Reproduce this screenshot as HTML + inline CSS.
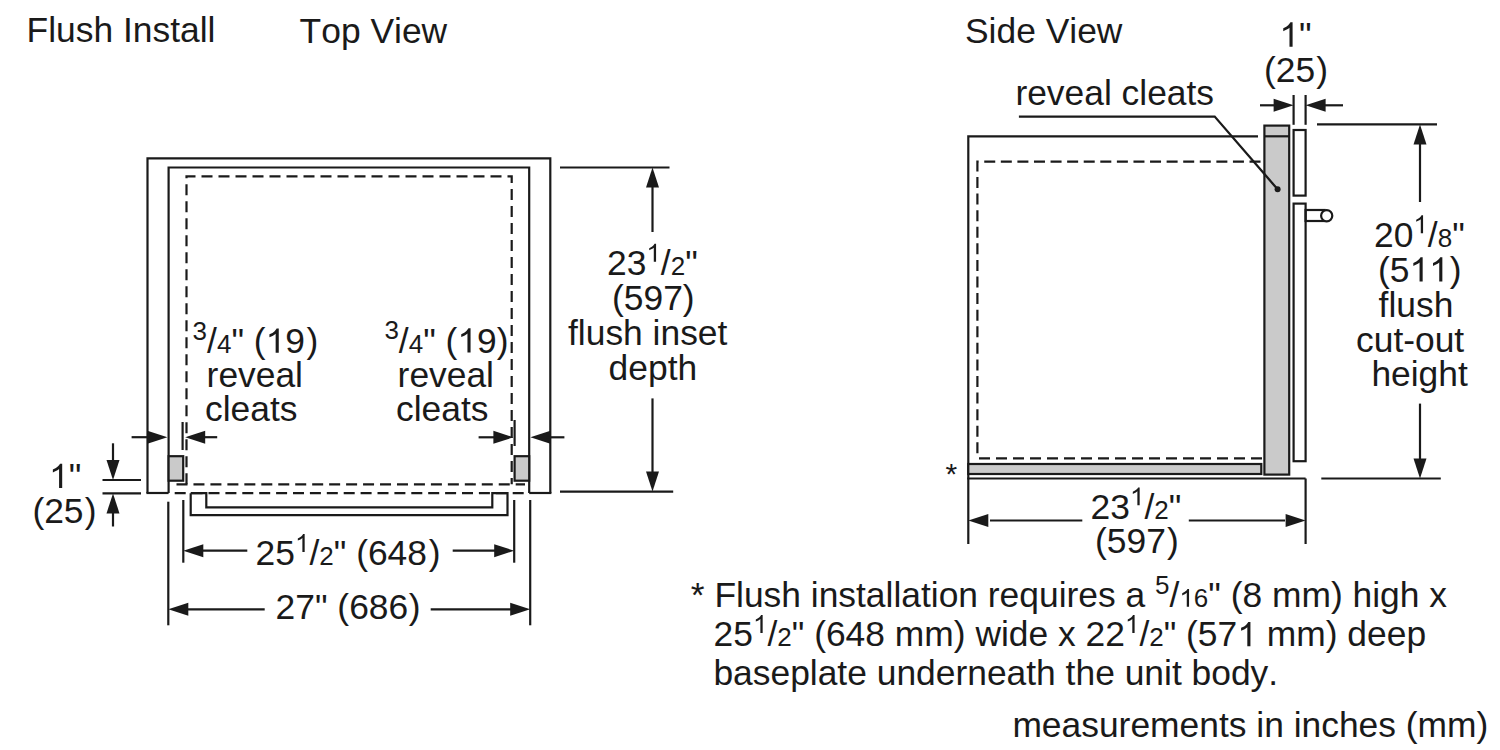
<!DOCTYPE html>
<html><head><meta charset="utf-8"><style>
html,body{margin:0;padding:0;background:#fff;width:1500px;height:750px;overflow:hidden}
svg{display:block}
text{font-family:"Liberation Sans",sans-serif;fill:#1a1a1a;font-kerning:none;font-feature-settings:"kern" 0}
.o{fill:transparent}
</style></head><body>
<svg width="1500" height="750" viewBox="0 0 1500 750">
<rect width="1500" height="750" fill="#fff"/>
<g stroke="#1a1a1a" fill="none" stroke-linecap="butt">
<polyline points="147.5,493 147.5,158.3 550.3,158.3 550.3,493" fill="none" stroke-width="2.2" />
<line x1="146.4" y1="493" x2="168.6" y2="493" stroke-width="2.2" />
<line x1="529.2" y1="493" x2="551.4" y2="493" stroke-width="2.2" />
<polyline points="168.6,493 168.6,167.5 529.2,167.5 529.2,493" fill="none" stroke-width="2.2" />
<path d="M186.5,484.3 V176.3 H511.7 V484.3" fill="none" stroke-width="2.2" stroke-dasharray="11 6.000" stroke-dashoffset="0"/>
<path d="M175,484.3 H525" fill="none" stroke-width="2.2" stroke-dasharray="11 5.960" stroke-dashoffset="-1.5"/>
<path d="M174.7,493.2 H525" fill="none" stroke-width="2.2" stroke-dasharray="11 5.900" stroke-dashoffset="0"/>
<rect x="168.6" y="456.2" width="14.6" height="24.5" fill="#cacaca" stroke-width="2.2"/>
<rect x="514.6" y="456.2" width="14.6" height="24.5" fill="#cacaca" stroke-width="2.2"/>
<polyline points="190.7,493.2 190.7,515.2 507.5,515.2 507.5,493.2 492.3,493.2 492.3,507.3 206.3,507.3 206.3,493.2 190.7,493.2" fill="none" stroke-width="2.2" />
<line x1="182.6" y1="422" x2="182.6" y2="450" stroke-width="2.2" />
<line x1="131.6" y1="437.2" x2="150" y2="437.2" stroke-width="2.2" />
<polygon points="167.4,437.2 147.4,430.7 147.4,443.7" fill="#1a1a1a" stroke="none"/>
<polygon points="185.2,437.2 205.2,430.7 205.2,443.7" fill="#1a1a1a" stroke="none"/>
<line x1="200" y1="437.2" x2="217.2" y2="437.2" stroke-width="2.2" />
<line x1="514.6" y1="420" x2="514.6" y2="446" stroke-width="2.2" />
<line x1="478.6" y1="437.3" x2="498" y2="437.3" stroke-width="2.2" />
<polygon points="513.4,437.3 493.4,430.8 493.4,443.8" fill="#1a1a1a" stroke="none"/>
<polygon points="530.4,437.3 550.4,430.8 550.4,443.8" fill="#1a1a1a" stroke="none"/>
<line x1="546" y1="437.3" x2="564.4" y2="437.3" stroke-width="2.2" />
<line x1="102.5" y1="480" x2="141" y2="480" stroke-width="2.2" />
<line x1="102.5" y1="493.4" x2="141" y2="493.4" stroke-width="2.2" />
<line x1="113" y1="443.3" x2="113" y2="463" stroke-width="2.2" />
<polygon points="113,480 106.5,460 119.5,460" fill="#1a1a1a" stroke="none"/>
<polygon points="113,493.4 106.5,513.4 119.5,513.4" fill="#1a1a1a" stroke="none"/>
<line x1="113" y1="510" x2="113" y2="526.5" stroke-width="2.2" />
<line x1="168.3" y1="501.7" x2="168.3" y2="625.3" stroke-width="2.2" />
<line x1="183.3" y1="500" x2="183.3" y2="562.7" stroke-width="2.2" />
<line x1="514.2" y1="500" x2="514.2" y2="562.7" stroke-width="2.2" />
<line x1="530.2" y1="500" x2="530.2" y2="625.3" stroke-width="2.2" />
<line x1="200" y1="550.7" x2="247.3" y2="550.7" stroke-width="2.2" />
<polygon points="183.3,550.7 203.3,544.2 203.3,557.2" fill="#1a1a1a" stroke="none"/>
<line x1="452.7" y1="550.7" x2="497" y2="550.7" stroke-width="2.2" />
<polygon points="514.2,550.7 494.20000000000005,544.2 494.20000000000005,557.2" fill="#1a1a1a" stroke="none"/>
<line x1="185" y1="609.3" x2="264.7" y2="609.3" stroke-width="2.2" />
<polygon points="168.3,609.3 188.3,602.8 188.3,615.8" fill="#1a1a1a" stroke="none"/>
<line x1="430.7" y1="609.3" x2="513" y2="609.3" stroke-width="2.2" />
<polygon points="530.2,609.3 510.20000000000005,602.8 510.20000000000005,615.8" fill="#1a1a1a" stroke="none"/>
<line x1="560" y1="167.5" x2="669.5" y2="167.5" stroke-width="2.2" />
<line x1="560" y1="491.6" x2="673.2" y2="491.6" stroke-width="2.2" />
<line x1="652.5" y1="184" x2="652.5" y2="232" stroke-width="2.2" />
<polygon points="652.5,167.5 646.0,187.5 659.0,187.5" fill="#1a1a1a" stroke="none"/>
<line x1="652.5" y1="398.4" x2="652.5" y2="475" stroke-width="2.2" />
<polygon points="652.5,491.6 646.0,471.6 659.0,471.6" fill="#1a1a1a" stroke="none"/>
<line x1="1293.6" y1="95" x2="1293.6" y2="124.8" stroke-width="2.2" />
<line x1="1305.6" y1="95" x2="1305.6" y2="124.8" stroke-width="2.2" />
<line x1="1260" y1="105.3" x2="1277" y2="105.3" stroke-width="2.2" />
<polygon points="1293.6,105.3 1273.6,98.8 1273.6,111.8" fill="#1a1a1a" stroke="none"/>
<polygon points="1305.6,105.3 1325.6,98.8 1325.6,111.8" fill="#1a1a1a" stroke="none"/>
<line x1="1322" y1="105.3" x2="1343" y2="105.3" stroke-width="2.2" />
<polyline points="968.3,544 968.3,136.3 1258,136.3" fill="none" stroke-width="2.2" />
<line x1="967.2" y1="478.5" x2="1305.6" y2="478.5" stroke-width="2.2" />
<polyline points="1305.6,478.5 1305.6,544" fill="none" stroke-width="2.2" />
<path d="M977.4,458.3 V161.7 H1261" fill="none" stroke-width="2.2" stroke-dasharray="11 5.580" stroke-dashoffset="-5"/>
<path d="M979,458.3 H1262" fill="none" stroke-width="2.2" stroke-dasharray="11 6.000" stroke-dashoffset="0"/>
<rect x="968.3" y="464" width="293" height="10" fill="#cacaca" stroke-width="2.2"/>
<rect x="1264.4" y="125.6" width="24.8" height="349" fill="#cacaca" stroke-width="2.2"/>
<line x1="1264.4" y1="136.3" x2="1289.2" y2="136.3" stroke-width="2.2" />
<rect x="1293.6" y="130" width="12" height="65.6" fill="none" stroke-width="2.2"/>
<rect x="1293.6" y="203.6" width="12" height="257.6" fill="none" stroke-width="2.2"/>
<rect x="1305.6" y="210" width="19" height="11" fill="none" stroke-width="2.2"/>
<circle cx="1326.7" cy="215.7" r="5.6" fill="#fff" stroke-width="2.2"/>
<polyline points="1018.9,116.6 1214.7,116.6 1277.4,189" fill="none" stroke-width="2.2" />
<circle cx="1277.6" cy="189.2" r="3" fill="#1a1a1a" stroke="none"/>
<line x1="1317" y1="124.4" x2="1437" y2="124.4" stroke-width="2.2" />
<line x1="1321.3" y1="478.5" x2="1440.8" y2="478.5" stroke-width="2.2" />
<line x1="1420" y1="142" x2="1420" y2="202" stroke-width="2.2" />
<polygon points="1420,124.4 1413.5,144.4 1426.5,144.4" fill="#1a1a1a" stroke="none"/>
<line x1="1420" y1="403.6" x2="1420" y2="462" stroke-width="2.2" />
<polygon points="1420,478.5 1413.5,458.5 1426.5,458.5" fill="#1a1a1a" stroke="none"/>
<line x1="990" y1="520.5" x2="1082.3" y2="520.5" stroke-width="2.2" />
<polygon points="968.3,520.5 988.3,514.0 988.3,527.0" fill="#1a1a1a" stroke="none"/>
<line x1="1188.8" y1="520.5" x2="1285" y2="520.5" stroke-width="2.2" />
<polygon points="1305.6,520.5 1285.6,514.0 1285.6,527.0" fill="#1a1a1a" stroke="none"/>
</g>
<g>
<text x="26.6" y="42.0" font-size="35.4">Flush Install</text>
<text x="299.6" y="42.9" font-size="35.4">Top View</text>
<text x="965.0" y="42.7" font-size="35.4">Side View</text>
<text x="607.0" y="275.0" font-size="35.4">23<tspan font-size="26" dy="-13.3"><tspan class="o">1</tspan></tspan><tspan dy="13.3">/</tspan><tspan font-size="26">2</tspan>"</text>
<text x="612.0" y="309.5" font-size="35.4">(597)</text>
<text x="568.0" y="345.4" font-size="35.4">flush inset</text>
<text x="608.6" y="380.2" font-size="35.4">depth</text>
<text x="192.6" y="352.8" font-size="35.4"><tspan font-size="26" dy="-13.3">3</tspan><tspan dy="13.3">/</tspan><tspan font-size="26">4</tspan>" (<tspan class="o">1</tspan>9<tspan dx="1.6">)</tspan></text>
<text x="206.6" y="387.0" font-size="35.4">reveal</text>
<text x="205.0" y="420.8" font-size="35.4">cleats</text>
<text x="384.4" y="352.6" font-size="35.4"><tspan font-size="26" dy="-13.3">3</tspan><tspan dy="13.3">/</tspan><tspan font-size="26">4</tspan>" (<tspan class="o">1</tspan>9)</text>
<text x="397.6" y="387.1" font-size="35.4">reveal</text>
<text x="396.0" y="420.8" font-size="35.4">cleats</text>
<text x="49.0" y="488.0" font-size="35.4"><tspan class="o">1</tspan>"</text>
<text x="32.4" y="523.0" font-size="35.4">(25<tspan dx="1.3">)</tspan></text>
<text x="255.6" y="565.3" font-size="35.4">25<tspan font-size="26" dy="-13.3"><tspan class="o">1</tspan></tspan><tspan dy="13.3">/</tspan><tspan font-size="26">2</tspan>" (648<tspan dx="1.8">)</tspan></text>
<text x="275.6" y="619.0" font-size="35.4">27" (686<tspan dx="0.6">)</tspan></text>
<text x="1279.4" y="46.7" font-size="35.4"><tspan class="o">1</tspan>"</text>
<text x="1264.0" y="82.0" font-size="35.4">(25<tspan dx="1.0">)</tspan></text>
<text x="1015.4" y="104.9" font-size="35.4">reveal cleats</text>
<text x="1374.0" y="246.5" font-size="35.4">20<tspan font-size="26" dy="-13.3"><tspan class="o">1</tspan></tspan><tspan dy="13.3">/</tspan><tspan font-size="26">8</tspan>"</text>
<text x="1378.0" y="281.5" font-size="35.4">(5<tspan class="o">1</tspan><tspan class="o">1</tspan><tspan dx="0.9">)</tspan></text>
<text x="1378.6" y="316.5" font-size="35.4">flush</text>
<text x="1356.0" y="351.7" font-size="35.4">cut-out</text>
<text x="1371.4" y="386.2" font-size="35.4">height</text>
<text x="1090.6" y="518.6" font-size="35.4">23<tspan font-size="26" dy="-13.3"><tspan class="o">1</tspan></tspan><tspan dy="13.3">/</tspan><tspan font-size="26">2</tspan>"</text>
<text x="1095.0" y="553.3" font-size="35.4">(597<tspan dx="1.2">)</tspan></text>
<text x="690.8" y="606.8" font-size="35.4">* Flush installation requires a <tspan font-size="26" dy="-13.3">5</tspan><tspan dy="13.3">/</tspan><tspan font-size="26"><tspan class="o">1</tspan>6</tspan>" (8 mm) high x</text>
<text x="713.6" y="646.3" font-size="35.4">25<tspan font-size="26" dy="-13.3"><tspan class="o">1</tspan></tspan><tspan dy="13.3">/</tspan><tspan font-size="26">2</tspan>" (648 mm) wide x 22<tspan font-size="26" dy="-13.3"><tspan class="o">1</tspan></tspan><tspan dy="13.3">/</tspan><tspan font-size="26">2</tspan>" (57<tspan class="o">1</tspan> mm) deep</text>
<text x="713.4" y="685.2" font-size="35.4">baseplate underneath the unit body.</text>
<text x="1012.4" y="736.7" font-size="35.4">measurements in inches (mm)</text>
<text x="945.5" y="484" font-size="30">*</text>
</g>
<g fill="#1a1a1a">
<path d="M763 0H583V1147Q518 1085 428 1032Q338 979 223 936V1110Q430 1207 507.5 1288Q585 1369 640 1466H763Z" transform="matrix(0.01270 0 0 -0.01220 646.38 261.70)"/>
<path d="M763 0H583V1147Q518 1085 428 1032Q338 979 223 936V1110Q430 1207 507.5 1288Q585 1369 640 1466H763Z" transform="matrix(0.01729 0 0 -0.01661 265.57 352.80)"/>
<path d="M763 0H583V1147Q518 1085 428 1032Q338 979 223 936V1110Q430 1207 507.5 1288Q585 1369 640 1466H763Z" transform="matrix(0.01729 0 0 -0.01661 457.37 352.60)"/>
<path d="M763 0H583V1147Q518 1085 428 1032Q338 979 223 936V1110Q430 1207 507.5 1288Q585 1369 640 1466H763Z" transform="matrix(0.01729 0 0 -0.01661 49.00 488.00)"/>
<path d="M763 0H583V1147Q518 1085 428 1032Q338 979 223 936V1110Q430 1207 507.5 1288Q585 1369 640 1466H763Z" transform="matrix(0.01270 0 0 -0.01220 294.98 552.00)"/>
<path d="M763 0H583V1147Q518 1085 428 1032Q338 979 223 936V1110Q430 1207 507.5 1288Q585 1369 640 1466H763Z" transform="matrix(0.01729 0 0 -0.01661 1279.40 46.70)"/>
<path d="M763 0H583V1147Q518 1085 428 1032Q338 979 223 936V1110Q430 1207 507.5 1288Q585 1369 640 1466H763Z" transform="matrix(0.01270 0 0 -0.01220 1413.38 233.20)"/>
<path d="M763 0H583V1147Q518 1085 428 1032Q338 979 223 936V1110Q430 1207 507.5 1288Q585 1369 640 1466H763Z" transform="matrix(0.01729 0 0 -0.01661 1409.47 281.50)"/>
<path d="M763 0H583V1147Q518 1085 428 1032Q338 979 223 936V1110Q430 1207 507.5 1288Q585 1369 640 1466H763Z" transform="matrix(0.01729 0 0 -0.01661 1429.16 281.50)"/>
<path d="M763 0H583V1147Q518 1085 428 1032Q338 979 223 936V1110Q430 1207 507.5 1288Q585 1369 640 1466H763Z" transform="matrix(0.01270 0 0 -0.01220 1129.97 505.30)"/>
<path d="M763 0H583V1147Q518 1085 428 1032Q338 979 223 936V1110Q430 1207 507.5 1288Q585 1369 640 1466H763Z" transform="matrix(0.01270 0 0 -0.01220 1179.36 606.80)"/>
<path d="M763 0H583V1147Q518 1085 428 1032Q338 979 223 936V1110Q430 1207 507.5 1288Q585 1369 640 1466H763Z" transform="matrix(0.01270 0 0 -0.01220 752.97 633.00)"/>
<path d="M763 0H583V1147Q518 1085 428 1032Q338 979 223 936V1110Q430 1207 507.5 1288Q585 1369 640 1466H763Z" transform="matrix(0.01270 0 0 -0.01220 1124.91 633.00)"/>
<path d="M763 0H583V1147Q518 1085 428 1032Q338 979 223 936V1110Q430 1207 507.5 1288Q585 1369 640 1466H763Z" transform="matrix(0.01729 0 0 -0.01661 1237.24 646.30)"/>
</g>
</svg></body></html>
